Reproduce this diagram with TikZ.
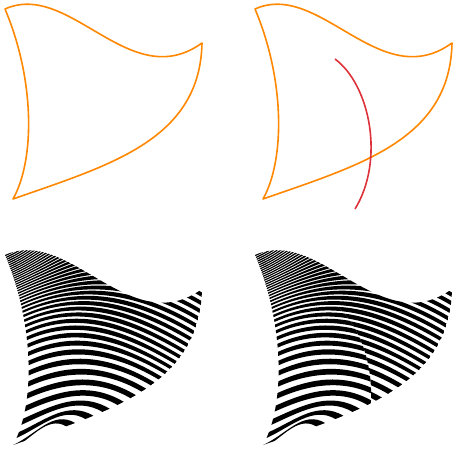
\documentclass[tikz,border=0pt]{standalone}
\definecolor{outl}{RGB}{255,136,0}
\definecolor{cutc}{RGB}{222,50,58}
\newcommand\bzval[6]{\pgfmathsetmacro#1{(1-#2)*(1-#2)*(1-#2)*(#3)+3*(1-#2)*(1-#2)*(#2)*(#4)+3*(1-#2)*(#2)*(#2)*(#5)+(#2)*(#2)*(#2)*(#6)}}
% #1 = t, #2 = name prefix, #3 = tear amount, #4 = arm factor
\newcommand\mkiso[4]{%
  \pgfmathsetmacro\isoa{0.35*(#1)+0.65*(#1)*(#1)*(#1)*(#1)*(#1)*(#1)}%
  \pgfmathsetmacro\isob{min(1,1.2*((#1)-0.49)+4.2*max(0,(#1)-0.8)*max(0,(#1)-0.8)+(#3)*max(0,(\isoa)-0.29)/0.71)}%
  \pgfmathsetmacro\isobb{max(0,\isob)}%
  \pgfmathsetmacro\isobn{min(0,\isob)}%
  \bzval\isoLx\isoa{5}{35}{35}{13}%
  \bzval\isoLy\isoa{9}{80}{160}{199}%
  \bzval\isoRx\isobb{202}{200}{110}{13}%
  \bzval\isoRy\isobb{43}{140}{165}{199}%
  \pgfmathsetmacro\isoRx{\isoRx-6*\isobn}%
  \pgfmathsetmacro\isoRy{\isoRy+291*\isobn}%
  \pgfmathsetmacro\isok{#4*veclen((\isoRx-\isoLx)/100,(\isoRy-\isoLy)/100)}%
  \coordinate (#2L) at (\isoLx,\isoLy);
  \coordinate (#2A) at ({\isoLx+0.91*\isok},{\isoLy-0.41*\isok});
  \coordinate (#2B) at ({\isoRx-0.86*\isok},{\isoRy-0.51*\isok});
  \coordinate (#2R) at (\isoRx,\isoRy);
}
\newcommand\band[3]{%
  \mkiso{#1}{p}{#3}{39}\mkiso{#2}{q}{#3}{37}%
  \fill[black] (pL) .. controls (pA) and (pB) .. (pR) -- (qR) .. controls (qB) and (qA) .. (qL) -- cycle;}
\newcommand\stripes[1]{\foreach \i in {0,...,40}{\pgfmathsetmacro\tA{\i/40}\pgfmathsetmacro\tB{(\i+0.6-0.15*\i/40)/40}\band{\tA}{\tB}{#1}}}
\newcommand\shapepath{(5,9) .. controls (70,-20) and (130,95) .. (202,43) .. controls (200,140) and (110,165) .. (13,199) .. controls (35,160) and (35,80) .. (5,9) -- cycle}
\newcommand\cutpath{(85,59) .. controls (120,85) and (135,160) .. (105,209)}
\tikzset{outline/.style={draw=outl,line width=1.6pt,line join=round},
  cutline/.style={draw=cutc,line width=1.6pt}}
\begin{document}
\begin{tikzpicture}[x=1pt,y=-1pt]
\useasboundingbox (0,0) rectangle (453,449);
\draw[outline] \shapepath;
\begin{scope}[shift={(250,0)}]
  \draw[outline] \shapepath;
  \draw[cutline] \cutpath;
\end{scope}
\begin{scope}[shift={(0,246)}]
  \clip \shapepath;
  \stripes{0}
\end{scope}
\begin{scope}[shift={(250,246)}]
  \clip \shapepath;
  \begin{scope}
    \clip (85,59) .. controls (120,85) and (135,160) .. (105,209) -- (-20,215) -- (-20,-30) -- (85,-30) -- cycle;
    \stripes{0}
  \end{scope}
  \begin{scope}
    \clip (85,59) .. controls (120,85) and (135,160) .. (105,209) -- (240,215) -- (240,-30) -- (85,-30) -- cycle;
    \stripes{0.035}
  \end{scope}
\end{scope}
\end{tikzpicture}
\end{document}
